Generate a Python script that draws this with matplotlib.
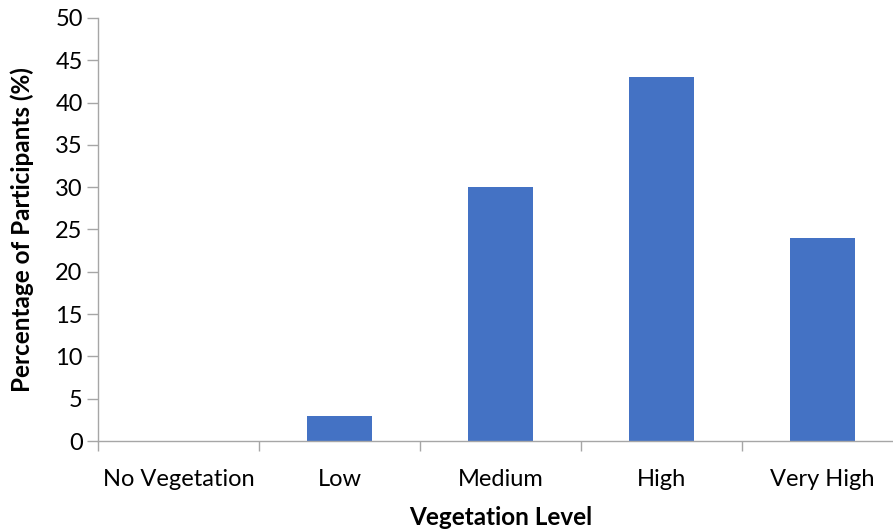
import numpy as np
import matplotlib.pyplot as plt

# data
categories = ['No Vegetation', 'Low', 'Medium', 'High', 'Very High']
percentages = [0, 3, 30, 43, 24]
y_ticks = [0, 5, 10, 15, 20, 25, 30, 35, 40, 45, 50]

bar_color = '#4472C4'
axis_color = '#A6A6A6'

plt.rcParams['font.family'] = ['Lato', 'DejaVu Sans']

W, H = 893, 529
fig = plt.figure(figsize=(W / 100, H / 100), dpi=100)
# plot area in pixel terms (the right end runs past the image edge, as in the reference)
left, right, top, bottom = 98, 903, 18, 441
ax = fig.add_axes([left / W, (H - bottom) / H, (right - left) / W, (bottom - top) / H])

x = np.arange(len(categories))
ax.bar(x, percentages, width=0.4, color=bar_color, zorder=2)

ax.set_xlim(-0.5, len(categories) - 0.5)
ax.set_ylim(0, 50)
ax.set_yticks(y_ticks)
ax.set_xticks(x)
ax.set_xticklabels(categories)
ax.set_xticks(np.arange(len(categories) + 1) - 0.5, minor=True)

for s in ['top', 'right']:
    ax.spines[s].set_visible(False)
for s in ['left', 'bottom']:
    ax.spines[s].set_color(axis_color)
    ax.spines[s].set_linewidth(1.0)

ax.tick_params(axis='y', length=8, width=1, color=axis_color, pad=3,
               labelsize=17, labelcolor='black')
ax.tick_params(axis='x', which='major', length=0, pad=20,
               labelsize=17, labelcolor='black')
ax.tick_params(axis='x', which='minor', length=7, width=1, color=axis_color)

ax.set_xlabel('Vegetation Level', fontsize=17.5, fontweight='bold', labelpad=12)
ax.set_ylabel('Percentage of Participants (%)', fontsize=17.5, fontweight='bold', labelpad=15)

fig.savefig('out.png', dpi=100)
